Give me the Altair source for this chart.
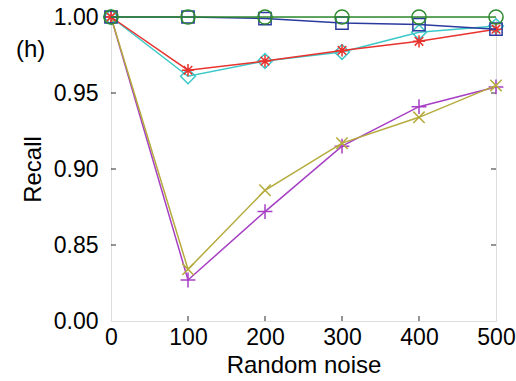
import altair as alt
import pandas as pd

noise = [0, 100, 200, 300, 400, 500]
s_green = [1.000, 1.000, 1.000, 1.000, 1.000, 1.000]
s_blue = [1.000, 1.000, 0.999, 0.996, 0.995, 0.992]
s_red = [1.000, 0.965, 0.971, 0.978, 0.984, 0.992]
s_cyan = [1.000, 0.961, 0.971, 0.977, 0.990, 0.994]
s_purple = [1.000, 0.827, 0.872, 0.915, 0.941, 0.954]
s_olive = [1.000, 0.834, 0.886, 0.917, 0.934, 0.955]

y_ticks = [0.80, 0.85, 0.90, 0.95, 1.00]
x_ticks = [0, 100, 200, 300, 400, 500]

W, H = 385, 304
FONT = "Liberation Sans"

ASTER = "M-1,0L1,0M0,-1L0,1M-0.7,-0.7L0.7,0.7M-0.7,0.7L0.7,-0.7"
PLUS = "M-1,0L1,0M0,-1L0,1"
XSHAPE = "M-1,-1L1,1M-1,1L1,-1"

series = [
    ("purple", s_purple, "#a63fc4", PLUS, 220),
    ("olive", s_olive, "#b5ab3c", XSHAPE, 130),
    ("cyan", s_cyan, "#3cc8c8", "diamond", 220),
    ("red", s_red, "#e8322e", ASTER, 150),
    ("blue", s_blue, "#2b3a9e", "square", 150),
    ("green", s_green, "#2e8a2e", "circle", 200),
]

xs = alt.Scale(domain=[0, 500], nice=False, zero=False)
ys = alt.Scale(domain=[0.80, 1.00], nice=False, zero=False)

layers = []
for name, vals, col, shape, size in series:
    df = pd.DataFrame({"x": noise, "y": vals})
    base = alt.Chart(df)
    layers.append(base.mark_line(color=col, strokeWidth=1.5, clip=False).encode(
        x=alt.X("x:Q", scale=xs), y=alt.Y("y:Q", scale=ys)))
    layers.append(base.mark_point(shape=shape, size=size, color=col, filled=False,
                                  strokeWidth=1.5, opacity=1, clip=False).encode(
        x=alt.X("x:Q", scale=xs), y=alt.Y("y:Q", scale=ys)))

ydf = pd.DataFrame({"y": y_ticks[1:4]})
xdf = pd.DataFrame({"x": x_ticks[1:5]})
tick_l = alt.Chart(ydf).mark_tick(orient="horizontal", color="black", size=5, thickness=1.2).encode(
    x=alt.value(2.5), y=alt.Y("y:Q", scale=ys))
tick_r = alt.Chart(ydf).mark_tick(orient="horizontal", color="black", size=5, thickness=1.2).encode(
    x=alt.value(W - 2.5), y=alt.Y("y:Q", scale=ys))
tick_b = alt.Chart(xdf).mark_tick(orient="vertical", color="black", size=5, thickness=1.2).encode(
    x=alt.X("x:Q", scale=xs), y=alt.value(H - 2.5))

label = alt.Chart(pd.DataFrame({"t": ["(h)"]})).mark_text(
    font=FONT, fontSize=24, color="black", align="left", baseline="middle").encode(
    text="t:N", x=alt.value(-95), y=alt.value(33))

axis_x = alt.Chart(pd.DataFrame({"x": [0]})).mark_point(opacity=0).encode(
    x=alt.X("x:Q", scale=xs, title="Random noise",
            axis=alt.Axis(values=x_ticks, tickSize=0, domain=False, grid=False,
                          labelFlush=False, labelOverlap=False,
                          labelFont=FONT, labelFontSize=23, labelColor="black",
                          labelPadding=5, titleFont=FONT, titleFontSize=24,
                          titleFontWeight="normal", titleColor="black", titlePadding=4)),
    y=alt.Y("y:Q", scale=ys, title="Recall",
            axis=alt.Axis(values=y_ticks, tickSize=0, domain=False, grid=False,
                          labelFlush=False, labelOverlap=False,
                          labelExpr="datum.value < 0.81 ? '0.00' : format(datum.value, '.2f')",
                          labelFont=FONT, labelFontSize=23, labelColor="black",
                          labelPadding=13, titleFont=FONT, titleFontSize=24,
                          titleFontWeight="normal", titleColor="black", titlePadding=8)),
).transform_calculate(y="0.9")

chart = alt.layer(axis_x, tick_l, tick_r, tick_b, *layers, label).properties(
    width=W, height=H,
    autosize=alt.AutoSizeParams(type="none"),
    padding={"left": 111, "top": 17, "right": 20, "bottom": 60},
).configure_view(stroke="black", strokeWidth=1.5).configure(background="white")

chart.save("out.html", embed_options={"renderer": "svg", "actions": False})
